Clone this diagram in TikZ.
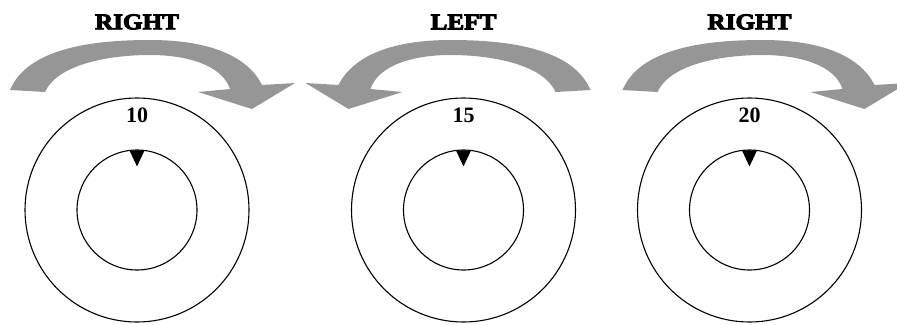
\documentclass[tikz,border=0pt]{standalone}
\usepackage{fontspec}
\setmainfont{Liberation Serif}
\newfontface\heavyserif{Liberation Serif Bold}[FakeBold=4]
\usepackage{tikz}
\usetikzlibrary{positioning}

\definecolor{turngray}{RGB}{150,150,150}

\begin{document}
\begin{tikzpicture}[
  x=1pt, y=-1pt,
  every node/.style={inner sep=0pt},
  outerdial/.style={draw, circle, line width=1.1pt, minimum size=224pt},
  innerdial/.style={draw, circle, line width=1.1pt, minimum size=120pt},
  count/.style={font=\fontsize{22}{24}\selectfont\bfseries},
  turnlabel/.style={font=\fontsize{22.5}{24}\selectfont\heavyserif, xscale=1.12},
  bentarrow/.pic={
    \fill[turngray] (-127,-120) .. controls (-110,-160) and (-50,-170) .. (13,-170)
      .. controls (70,-170) and (110,-155) .. (125,-125)
      -- (158,-127) -- (115,-101) -- (61,-118) -- (93,-121)
      .. controls (85,-145) and (50,-155) .. (13,-155)
      .. controls (-30,-155) and (-80,-145) .. (-92,-118)
      -- cycle;
  },
]
\useasboundingbox (0,0) rectangle (897,324);
\clip (0,0) rectangle (897,324);

% Dial 1: turn right to 10
\node[outerdial] (dial1) at (137,210) {};
\node[innerdial] (hub1) at (dial1.center) {};
\fill (hub1.north) +(-7.5,1) -- +(7.5,1) -- +(0,17) -- cycle;
\node[count] (num1) at ([yshift=-18pt]dial1.north) {10};
\pic at (dial1.center) {bentarrow};
\node[turnlabel] (turn1) at ([yshift=75.5pt]dial1.north) {RIGHT};

% Dial 2: turn left to 15
\node[outerdial] (dial2) at (463.5,210) {};
\node[innerdial] (hub2) at (dial2.center) {};
\fill (hub2.north) +(-7.5,1) -- +(7.5,1) -- +(0,17) -- cycle;
\node[count] (num2) at ([yshift=-18pt]dial2.north) {15};
\pic[xscale=-1] at (dial2.center) {bentarrow};
\node[turnlabel] (turn2) at ([yshift=75.5pt]dial2.north) {LEFT};

% Dial 3: turn right to 20
\node[outerdial] (dial3) at (749.5,210) {};
\node[innerdial] (hub3) at (dial3.center) {};
\fill (hub3.north) +(-7.5,1) -- +(7.5,1) -- +(0,17) -- cycle;
\node[count] (num3) at ([yshift=-18pt]dial3.north) {20};
\pic at (dial3.center) {bentarrow};
\node[turnlabel] (turn3) at ([yshift=75.5pt]dial3.north) {RIGHT};

\end{tikzpicture}
\end{document}
